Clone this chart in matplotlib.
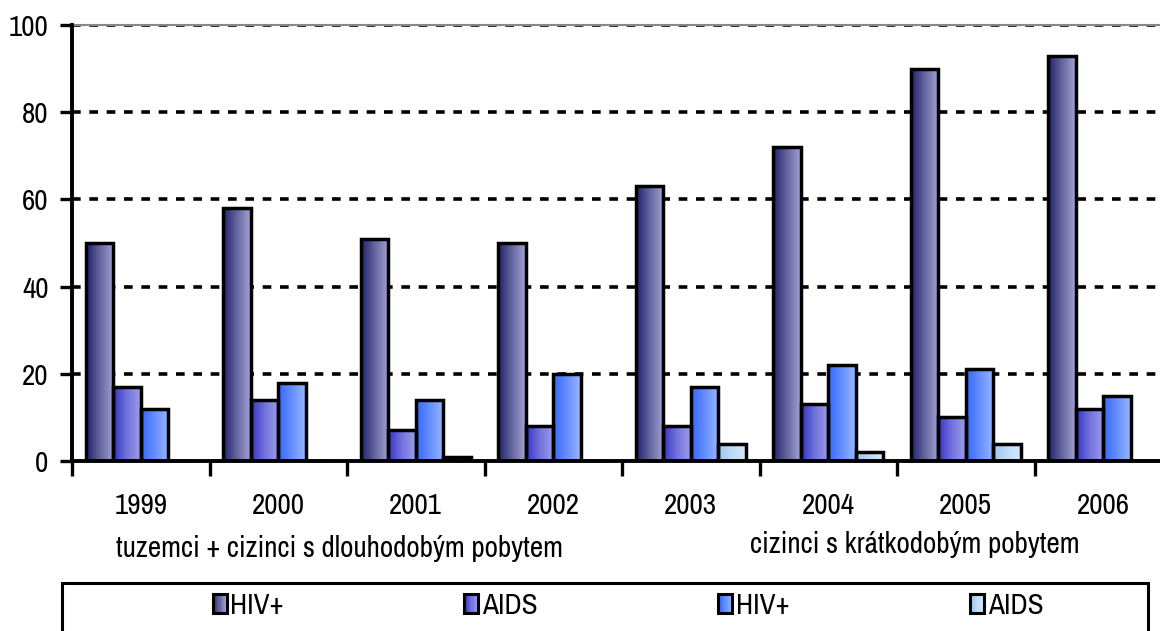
import numpy as np
import matplotlib
matplotlib.use("Agg")
import matplotlib.pyplot as plt
from matplotlib.patches import Rectangle
from matplotlib.legend_handler import HandlerBase
from matplotlib.colors import LinearSegmentedColormap
from matplotlib import font_manager

years = ["1999", "2000", "2001", "2002", "2003", "2004", "2005", "2006"]
hiv_long = [50, 58, 51, 50, 63, 72, 90, 93]
aids_long = [17, 14, 7, 8, 8, 13, 10, 12]
hiv_short = [12, 18, 14, 20, 17, 22, 21, 15]
aids_short = [0, 0, 1, 0, 4, 2, 4, 0]
series_labels = ["HIV+", "AIDS", "HIV+", "AIDS"]
yticks = [0, 20, 40, 60, 80, 100]
group_labels = ["tuzemci + cizinci s dlouhodobým pobytem", "cizinci s krátkodobým pobytem"]

grad = [
    ((0.12, 0.12, 0.43), (0.40, 0.40, 0.62), (0.64, 0.64, 0.84)),
    ((0.20, 0.20, 0.78), (0.45, 0.45, 0.86), (0.62, 0.62, 0.92)),
    ((0.20, 0.40, 1.00), (0.40, 0.56, 1.00), (0.60, 0.72, 1.00)),
    ((0.62, 0.78, 0.94), (0.74, 0.86, 0.97), (0.84, 0.91, 0.99)),
]
cmaps = [LinearSegmentedColormap.from_list("g%d" % i, g) for i, g in enumerate(grad)]

names = {f.name for f in font_manager.fontManager.ttflist}
fam = [f for f in ["Archivo Narrow", "Liberation Sans Narrow", "Barlow Semi Condensed", "Liberation Sans"] if f in names][:1] + ["DejaVu Sans"]
plt.rcParams["font.family"] = fam
FS = 21

W, H = 1160, 631
fig = plt.figure(figsize=(W / 100, H / 100), dpi=100)
ax = fig.add_axes([72 / W, (H - 461) / H, 1100 / W, 436 / H])

x = np.arange(len(years))
data = [hiv_long, aids_long, hiv_short, aids_short]
bw = 0.2
offs = [-0.3, -0.1, 0.1, 0.3]
gimg = np.linspace(0, 1, 256).reshape(1, -1)
for vals, off, cm in zip(data, offs, cmaps):
    bars = ax.bar(x + off, vals, bw, facecolor="none", edgecolor="black", linewidth=2.5, zorder=4)
    for p in bars:
        h = p.get_height()
        if h <= 0:
            continue
        x0 = p.get_x()
        im = ax.imshow(gimg, cmap=cm, extent=[x0, x0 + p.get_width(), 0, h],
                       aspect="auto", zorder=3, interpolation="bicubic")
        im.set_clip_path(p)

ax.set_xlim(-0.5, len(years) - 0.5)
ax.set_ylim(0, 100)
ax.set_yticks(yticks)
ax.set_yticklabels([str(v) for v in yticks], fontsize=FS)
ax.set_xticks(np.arange(len(years) + 1) - 0.5)
ax.set_xticklabels([])
ax.tick_params(axis="x", direction="out", length=11, width=2.4, color="black")
ax.tick_params(axis="y", direction="out", length=9, width=2.4, color="black", pad=8)
for yv in yticks[1:]:
    ax.axhline(yv, color="black", linewidth=2.6, linestyle=(0, (2.4, 2.4)), zorder=2)
for s in ["left", "bottom"]:
    ax.spines[s].set_linewidth(2.8)
    ax.spines[s].set_zorder(5)
ax.spines["top"].set_color("#888888")
ax.spines["top"].set_linewidth(1.5)
ax.spines["right"].set_visible(False)

for i, yl in enumerate(years):
    ax.text(i, -0.103, yl, transform=ax.get_xaxis_transform(), ha="center", va="center", fontsize=FS)

fig.text(340 / W, 1 - 549 / H, group_labels[0], ha="center", va="center", fontsize=FS)
fig.text(915 / W, 1 - 545 / H, group_labels[1], ha="center", va="center", fontsize=FS)

# legend frame
fig.patches.append(Rectangle((62 / W, -0.05), (1148 - 62) / W, (H - 583) / H + 0.05,
                             transform=fig.transFigure, facecolor="white", edgecolor="black",
                             linewidth=2.2, zorder=1))


class GradHandler(HandlerBase):
    def __init__(self, cmap):
        super().__init__()
        self.cmap = cmap

    def create_artists(self, legend, orig_handle, xdescent, ydescent, width, height, fontsize, trans):
        arts = []
        n = 12
        w = width / n
        for k in range(n):
            arts.append(Rectangle((-xdescent + k * w, -ydescent), w * 1.05, height,
                                  facecolor=self.cmap((k + 0.5) / n), edgecolor="none", transform=trans))
        arts.append(Rectangle((-xdescent, -ydescent), width, height, facecolor="none",
                              edgecolor="black", linewidth=2.2, transform=trans))
        return arts


handles = [Rectangle((0, 0), 1, 1) for _ in range(4)]
hmap = {h: GradHandler(c) for h, c in zip(handles, cmaps)}
leg = fig.legend(handles, series_labels, handler_map=hmap, loc="center",
                 bbox_to_anchor=(628 / W, 1 - 605 / H), ncol=4, frameon=False,
                 fontsize=FS, handlelength=0.48, handleheight=0.62, handletextpad=0.12,
                 columnspacing=6.2)
leg.set_zorder(6)

fig.savefig("out.png", dpi=100)
